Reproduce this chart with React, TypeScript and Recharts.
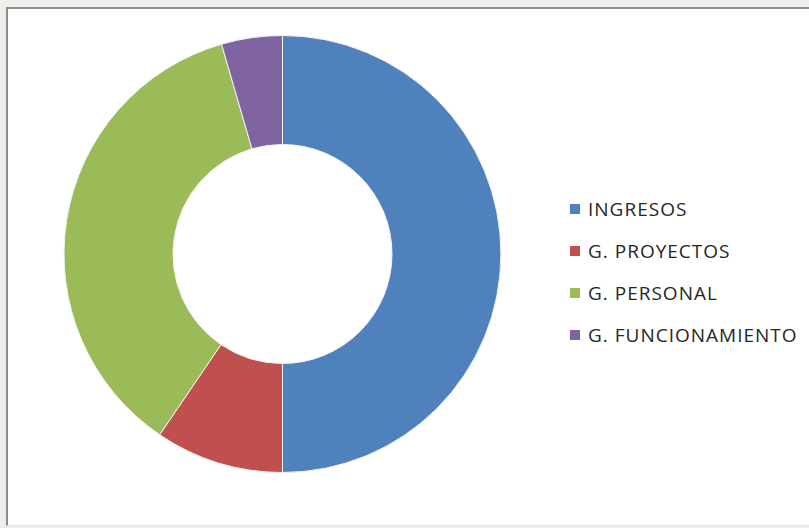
import React from "react";
import { PieChart, Pie, Cell, Legend } from "recharts";

const categories = ["INGRESOS", "G. PROYECTOS", "G. PERSONAL", "G. FUNCIONAMIENTO"];
const values = [50, 9.5, 36, 4.5];
const colors = ["#4f81bd", "#c0504d", "#9bbb59", "#8064a2"];

const chartData = categories.map((name, i) => ({ name, value: values[i] }));

function LegendList(props: any) {
  // keep the legend in data order, top to bottom
  const items = [...(props.payload || [])].sort(
    (a: any, b: any) => categories.indexOf(a.value) - categories.indexOf(b.value)
  );
  return (
    <div>
      {items.map((entry: any, index: number) => (
        <div
          key={`legend-${index}`}
          style={{
            display: "flex",
            alignItems: "center",
            height: 42,
            fontFamily: "'Open Sans', sans-serif",
            fontSize: 19,
            letterSpacing: 1,
            color: "#262626",
          }}
        >
          <span
            style={{
              display: "inline-block",
              width: 10,
              height: 10,
              background: entry.color,
              marginRight: 8,
            }}
          />
          {entry.value}
        </div>
      ))}
    </div>
  );
}

export default function App() {
  return (
    <div
      style={{
        position: "fixed",
        left: 0,
        top: 0,
        width: 809,
        height: 528,
        background: "#efeeea",
        overflow: "hidden",
      }}
    >
      <div
        style={{
          position: "absolute",
          left: 6,
          top: 7,
          width: 820,
          height: 516,
          background: "#ffffff",
          borderLeft: "2px solid #8c8c8c",
          borderTop: "2px solid #8c8c8c",
          borderBottom: "1px solid #e2e2e2",
        }}
      />
      <div style={{ position: "absolute", left: 0, top: 0 }}>
        <PieChart width={809} height={528} margin={{ top: 0, right: 0, bottom: 0, left: 0 }}>
          <Pie
            data={chartData}
            dataKey="value"
            nameKey="name"
            cx={282.5}
            cy={254}
            innerRadius={109.5}
            outerRadius={218.5}
            startAngle={90}
            endAngle={-270}
            stroke="#f4f4f4"
            strokeWidth={1}
            isAnimationActive={false}
          >
            {chartData.map((entry, index) => (
              <Cell key={`cell-${index}`} fill={colors[index]} />
            ))}
          </Pie>
          <Legend
            layout="vertical"
            content={<LegendList />}
            wrapperStyle={{ left: 570, top: 188, width: 240 }}
          />
        </PieChart>
      </div>
    </div>
  );
}
